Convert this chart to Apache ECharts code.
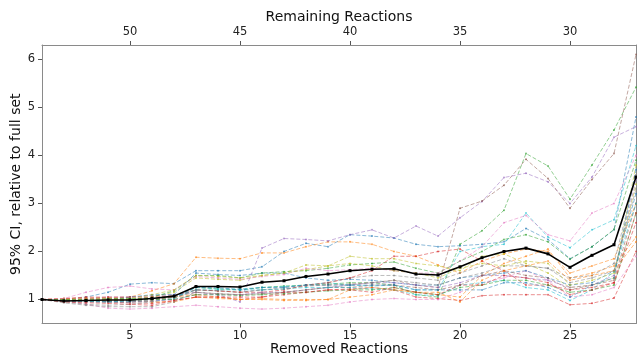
<!DOCTYPE html>
<html>
<head>
<meta charset="utf-8">
<script src="https://cdn.jsdelivr.net/npm/echarts@6/dist/echarts.min.js"></script>
<style>
html,body{margin:0;padding:0;background:#fff;}
#c{width:637px;height:356px;}
</style>
</head>
<body>
<div id="c"></div>
<script>
// x positions: removed reactions 1..28
const removed = [1,2,3,4,5,6,7,8,9,10,11,12,13,14,15,16,17,18,19,20,21,22,23,24,25,26,27,28];
const totalReactions = 55; // remaining = total - removed
const bottomTicks = [5,10,15,20,25];
const topTickLabels = [50,45,40,35,30];
const yTicks = [1,2,3,4,5,6];

const palette = ['#1f77b4','#ff7f0e','#2ca02c','#d62728','#9467bd','#8c564b','#e377c2','#7f7f7f','#bcbd22','#17becf'];

const s01 = [1,1.0,1.05,1.15,1.32,1.35,1.33,1.6,1.6,1.6,1.68,2.0,2.17,2.1,2.35,2.32,2.28,2.15,2.1,2.12,2.15,2.2,2.48,2.25,1.85,2.1,2.45,4.8];
const s02 = [1,1.0,1.02,1.03,1.05,1.18,1.33,1.88,1.86,1.85,1.97,1.97,2.1,2.2,2.2,2.15,2.0,1.9,1.72,1.55,1.8,1.95,2.05,2.0,1.55,1.7,1.85,3.0];
const s03 = [1,0.98,0.97,0.96,0.98,1.02,1.08,1.25,1.22,1.2,1.25,1.28,1.3,1.32,1.35,1.35,1.3,1.1,1.05,2.15,2.43,2.86,4.04,3.78,3.09,3.8,4.53,5.42];
const s04 = [1,0.98,0.97,0.95,0.93,0.92,0.98,1.05,1.05,1.0,1.05,1.1,1.15,1.2,1.22,1.25,1.2,1.05,1.02,0.98,1.08,1.1,1.1,1.1,0.89,0.92,1.03,2.0];
const s05 = [1,1.0,1.02,1.05,1.05,1.08,1.1,1.15,1.1,0.95,2.07,2.27,2.25,2.22,2.35,2.45,2.28,2.53,2.32,2.7,3.04,3.54,3.63,3.45,3.0,3.55,4.38,4.6];
const s06 = [1,0.98,0.98,0.97,0.98,1.0,1.05,1.2,1.18,1.15,1.2,1.22,1.28,1.3,1.32,1.35,1.4,1.3,1.25,2.9,3.05,3.38,3.92,3.52,2.9,3.5,4.04,6.1];
const s07 = [1,0.97,0.9,0.82,0.8,0.82,0.85,0.88,0.85,0.82,0.8,0.82,0.85,0.88,0.95,1.0,1.02,1.0,1.0,1.15,1.35,1.45,1.6,1.4,1.05,1.1,1.25,1.9];
const s08 = [1,0.95,0.9,0.88,0.9,0.95,1.02,1.2,1.18,1.15,1.2,1.25,1.3,1.35,1.45,1.5,1.5,1.45,1.4,1.55,1.7,1.85,1.7,1.65,1.35,1.45,1.6,3.3];
const s09 = [1,0.98,0.97,0.98,1.0,1.05,1.15,1.45,1.42,1.4,1.5,1.55,1.72,1.7,1.9,1.85,1.85,1.75,1.7,1.6,1.9,1.95,1.75,1.55,1.25,1.3,1.45,3.8];
const s10 = [1,0.97,0.96,0.95,0.95,0.96,1.02,1.25,1.22,1.22,1.25,1.27,1.3,1.35,1.3,1.28,1.3,1.2,1.2,2.0,2.1,2.15,2.8,2.3,2.08,2.45,2.66,4.2];
const s11 = [1,0.98,0.98,1.0,1.05,1.1,1.1,1.55,1.52,1.5,1.55,1.55,1.45,1.4,1.42,1.4,1.35,1.3,1.3,1.45,1.5,1.55,1.6,1.45,1.3,1.35,1.6,3.2];
const s12 = [1,1.02,1.03,1.03,1.0,0.95,0.95,1.05,1.02,1.0,1.0,0.98,0.98,1.0,1.2,1.25,1.2,1.15,1.1,1.05,1.5,1.75,1.9,2.05,1.45,1.55,1.7,2.3];
const s13 = [1,0.98,0.97,0.99,1.0,1.05,1.18,1.5,1.5,1.45,1.55,1.58,1.6,1.65,1.72,1.75,1.78,1.65,1.55,1.8,2.0,2.25,2.35,2.2,1.84,2.1,2.46,3.9];
const s14 = [1,1.02,1.05,1.05,1.05,1.05,1.08,1.2,1.18,1.15,1.15,1.2,1.3,1.35,1.45,1.6,1.9,1.9,2.0,2.05,1.8,1.6,1.3,1.3,1.2,1.25,1.35,2.6];
const s15 = [1,0.97,0.95,0.95,0.95,0.97,1.0,1.1,1.1,1.1,1.15,1.15,1.2,1.25,1.3,1.35,1.35,1.3,1.25,1.35,1.5,1.5,1.45,1.4,1.25,1.3,1.5,3.5];
const s16 = [1,0.96,0.95,0.95,0.95,0.98,1.05,1.15,1.12,1.1,1.12,1.15,1.2,1.25,1.25,1.3,1.3,1.25,1.2,1.3,1.5,1.6,1.5,1.45,1.2,1.3,1.4,3.0];
const s17 = [1,1.02,1.15,1.25,1.28,1.22,1.2,1.48,1.45,1.42,1.48,1.52,1.65,1.6,1.62,1.65,1.6,1.55,1.55,1.8,2.1,2.6,2.75,2.35,2.22,2.8,3.0,4.0];
const s18 = [1,0.93,0.88,0.85,0.85,0.85,0.95,1.15,1.12,1.1,1.12,1.15,1.2,1.25,1.3,1.35,1.4,1.35,1.3,1.45,1.55,1.7,1.7,1.65,1.45,1.5,1.75,3.6];
const s19 = [1,1.0,1.0,1.0,1.02,1.1,1.2,1.5,1.48,1.45,1.5,1.55,1.62,1.7,1.75,1.7,1.6,1.55,1.45,1.65,1.75,1.7,1.8,1.75,1.3,1.4,1.55,3.4];
const s20 = [1,0.98,0.96,0.95,0.97,1.0,1.05,1.2,1.2,1.2,1.2,1.22,1.25,1.25,1.25,1.22,1.2,1.1,1.08,1.3,1.35,1.4,1.25,1.2,0.98,1.2,1.58,3.0];
const s21 = [1,0.98,0.98,0.97,0.98,1.0,1.05,1.25,1.25,1.2,1.25,1.25,1.3,1.3,1.3,1.3,1.3,1.2,1.2,1.2,1.2,1.35,1.35,1.25,1.05,1.3,1.45,3.7];
const s22 = [1,0.99,0.98,0.98,0.99,1.0,1.05,1.1,1.05,1.0,1.02,1.0,1.0,1.0,1.05,1.1,1.2,1.15,1.15,0.95,1.4,1.6,1.7,1.8,1.4,1.5,1.6,2.2];
const s23 = [1,1.0,1.0,1.02,1.02,1.0,1.0,1.1,1.1,1.08,1.1,1.12,1.15,1.18,1.2,1.2,1.25,1.15,1.1,1.25,1.3,1.4,1.4,1.3,1.15,1.2,1.3,2.8];
const s24 = [1,0.95,0.93,0.92,0.9,0.88,0.98,1.05,1.05,1.05,1.05,1.15,1.15,1.2,1.2,1.15,1.25,1.15,1.1,1.3,1.3,1.5,1.45,1.35,1.1,1.2,1.35,2.8];
const meanCI = [1,0.97,0.98,0.99,0.99,1.02,1.07,1.27,1.27,1.26,1.36,1.39,1.48,1.53,1.60,1.63,1.64,1.53,1.51,1.68,1.87,2.0,2.07,1.95,1.67,1.92,2.14,3.55];

const runs = [s01,s02,s03,s04,s05,s06,s07,s08,s09,s10,s11,s12,s13,s14,s15,s16,s17,s18,s19,s20,s21,s22,s23,s24];

const FONT = 'DejaVu Sans';
const series = runs.map((arr, i) => ({
  type: 'line',
  xAxisIndex: 0,
  data: arr.map((v, j) => [removed[j], v]),
  symbol: 'circle',
  symbolSize: 2,
  silent: true,
  animation: false,
  lineStyle: {width: 0.8, type: [4, 2], color: palette[i % 10], opacity: 0.65},
  itemStyle: {color: palette[i % 10], opacity: 0.65}
}));
series.push({
  type: 'line',
  xAxisIndex: 0,
  data: meanCI.map((v, j) => [removed[j], v]),
  symbol: 'rect',
  symbolSize: 3,
  animation: false,
  z: 10,
  lineStyle: {width: 1.6, color: '#000'},
  itemStyle: {color: '#000'}
});
// invisible series for top axis
series.push({type: 'line', xAxisIndex: 1, data: [], silent: true});

const axisLineStyle = {show: true, lineStyle: {color: '#8a8a8a', width: 1}};
const option = {
  animation: false,
  backgroundColor: '#fff',
  grid: {left: 42, right: 1, top: 45, bottom: 32.5, containLabel: false, outerBoundsMode: 'none', show: false},
  xAxis: [
    {
      type: 'value', position: 'bottom', min: 1, max: 28,
      name: 'Removed Reactions', nameLocation: 'middle', nameGap: 19, nameMoveOverlap: false,
      nameTextStyle: {fontFamily: FONT, fontSize: 14, color: '#111'},
      axisLine: axisLineStyle,
      axisTick: {show: true, length: 4, inside: false, customValues: bottomTicks, lineStyle: {color: '#555'}},
      axisLabel: {customValues: bottomTicks, fontFamily: FONT, fontSize: 11.5, color: '#222', margin: 7},
      splitLine: {show: false}
    },
    {
      type: 'value', position: 'top', min: 1, max: 28,
      name: 'Remaining Reactions', nameLocation: 'middle', nameGap: 21, nameMoveOverlap: false,
      nameTextStyle: {fontFamily: FONT, fontSize: 14, color: '#111'},
      axisLine: axisLineStyle,
      axisTick: {show: true, length: 4, inside: false, customValues: topTickLabels.map(t => totalReactions - t), lineStyle: {color: '#555'}},
      axisLabel: {customValues: topTickLabels.map(t => totalReactions - t), formatter: v => String(totalReactions - v), fontFamily: FONT, fontSize: 11.5, color: '#222', margin: 7},
      splitLine: {show: false}
    }
  ],
  yAxis: [
    {
      type: 'value', position: 'left', min: 0.5, max: 6.3,
      name: '95% CI, relative to full set', nameLocation: 'middle', nameGap: 19, nameRotate: 90, nameMoveOverlap: false,
      nameTextStyle: {fontFamily: FONT, fontSize: 14, color: '#111'},
      axisLine: axisLineStyle,
      axisTick: {show: true, length: 4, customValues: yTicks, lineStyle: {color: '#555'}},
      axisLabel: {customValues: yTicks, fontFamily: FONT, fontSize: 11.5, color: '#222', margin: 7},
      splitLine: {show: false}
    },
    {
      type: 'value', position: 'right', min: 0.5, max: 6.3,
      axisLine: axisLineStyle, axisTick: {show: false}, axisLabel: {show: false}, splitLine: {show: false}
    }
  ],
  series: series
};
const chart = echarts.init(document.getElementById('c'), null, {renderer: 'canvas'});
chart.setOption(option);
</script>
</body>
</html>
